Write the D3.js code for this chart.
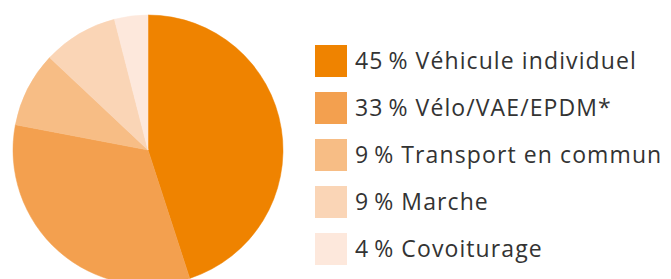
<!DOCTYPE html>
<html>
<head>
<meta charset="utf-8">
<script src="https://cdn.jsdelivr.net/npm/d3@7"></script>
<style>
  body { margin: 0; background: #fff; }
  text { font-family: "Open Sans", sans-serif; }
</style>
</head>
<body>
<svg id="canvas" width="671" height="279"></svg>
<script>
/********** Data *********/
var categories = ["Véhicule individuel", "Vélo/VAE/EPDM*", "Transport en commun", "Marche", "Covoiturage"];
var shares = [45, 33, 9, 9, 4];
var colors = ["#ef8300", "#f3a04f", "#f7bd85", "#fad5b6", "#fde8dc"];

var data = categories.map(function(c, i) {
    return {name: c, value: shares[i], color: colors[i]};
});

/********** Initialisation *********/
var svg = d3.select("#canvas");

/********** Pie ***********/
var pie = d3.pie()
    .sort(null)
    .value(function(d) { return d.value; });

var arc = d3.arc()
    .innerRadius(0)
    .outerRadius(135);

var pieG = svg.append("g")
    .attr("transform", "translate(148,150)");

pieG.selectAll("path")
    .data(pie(data))
    .enter()
    .append("path")
    .attr("d", arc)
    .attr("fill", function(d) { return d.data.color; })
    .attr("stroke", function(d) { return d.data.color; })
    .attr("stroke-width", 0.5);

/********** Legend ***********/
var y = d3.scaleBand()
    .domain(categories)
    .range([45, 45 + 47 * categories.length])
    .paddingInner(0);

var legend = svg.append("g")
    .selectAll("g")
    .data(data)
    .enter()
    .append("g")
    .attr("transform", function(d) { return "translate(315," + y(d.name) + ")"; });

legend.append("rect")
    .attr("width", 32)
    .attr("height", 32)
    .attr("fill", function(d) { return d.color; });

legend.append("text")
    .attr("x", 40)
    .attr("y", 16)
    .attr("dy", "0.36em")
    .attr("fill", "#333")
    .style("font-size", "23px")
    .style("letter-spacing", "1.1px")
    .text(function(d) { return d.value + "\u2009% " + d.name; });
</script>
</body>
</html>
